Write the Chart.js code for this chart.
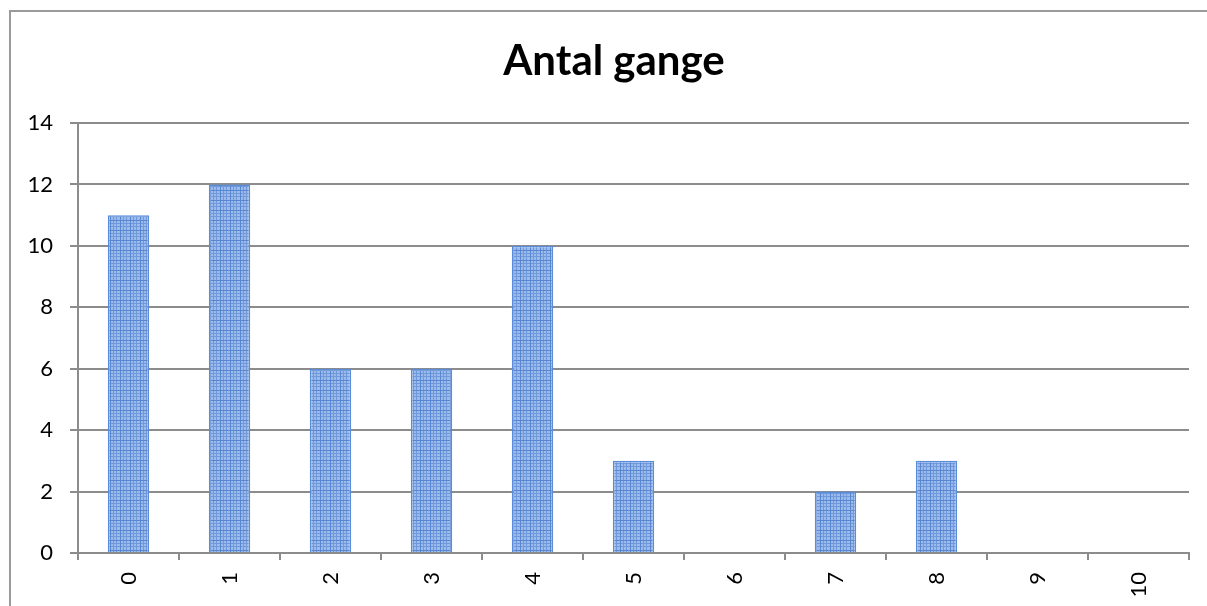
<!DOCTYPE html>
<html>
<head>
<meta charset="utf-8">
<script src="https://cdn.jsdelivr.net/npm/chart.js@4/dist/chart.umd.min.js"></script>
<style>
  html, body { margin: 0; padding: 0; background: #fff; overflow: hidden; }
  #frame {
    position: absolute; left: 9px; top: 10px; width: 1400px; height: 800px;
    border-left: 2px solid #9a9a9a; border-top: 2px solid #9a9a9a;
  }
  #wrap { position: absolute; left: 0; top: 0; width: 1207px; height: 606px; }
</style>
</head>
<body>
<div id="frame"></div>
<div id="wrap"><canvas id="chart"></canvas></div>
<script>
/* --- DATA --- */
const CATEGORIES = ['0', '1', '2', '3', '4', '5', '6', '7', '8', '9', '10'];
const COUNTS = [11, 12, 6, 6, 10, 3, 0, 2, 3, 0, 0];
const Y_MAX = 14;
const Y_STEP = 2;
const TITLE = 'Antal gange';

const GRID = '#8c8c8c';
const FONT = "Lato, 'Open Sans', sans-serif";

// small grid texture like the office "small grid" fill
function makePattern() {
  const c = document.createElement('canvas');
  c.width = 10; c.height = 10;
  const g = c.getContext('2d');
  g.fillStyle = '#9dbbea';
  g.fillRect(0, 0, 10, 10);
  g.fillStyle = '#7099db';
  [0, 3, 6].forEach(p => {
    g.fillRect(p, 0, 1, 10);
    g.fillRect(0, p, 10, 1);
  });
  g.fillStyle = '#5787d3';
  g.fillRect(0, 0, 1, 10);
  g.fillRect(0, 0, 10, 1);
  return g.createPattern(c, 'repeat');
}

// title drawn a bit left of the plot centre, like the original
const titlePlugin = {
  id: 'sheetTitle',
  afterDraw(chart) {
    const ctx = chart.ctx;
    ctx.save();
    ctx.font = `bold 42px ${FONT}`;
    ctx.fillStyle = '#000';
    ctx.textAlign = 'center';
    ctx.textBaseline = 'alphabetic';
    ctx.fillText(TITLE, 614, 75);
    ctx.restore();
  }
};

Chart.defaults.font.family = FONT;
Chart.defaults.color = '#000';

new Chart(document.getElementById('chart'), {
  type: 'bar',
  data: {
    labels: CATEGORIES,
    datasets: [{
      label: TITLE,
      data: COUNTS,
      backgroundColor: makePattern(),
      borderColor: '#5a8cd7',
      borderWidth: 1.5,
      categoryPercentage: 1,
      barPercentage: 0.41
    }]
  },
  options: {
    responsive: true,
    maintainAspectRatio: false,
    animation: false,
    layout: { padding: { left: 20, right: 18, top: 123, bottom: 0 } },
    plugins: {
      legend: { display: false },
      tooltip: { enabled: false },
      title: { display: false }
    },
    scales: {
      x: {
        offset: true,
        grid: { offset: true, drawOnChartArea: false, drawTicks: true, tickLength: 7, color: GRID, lineWidth: 2 },
        border: { display: true, color: GRID, width: 2 },
        ticks: { minRotation: 90, maxRotation: 90, autoSkip: false, padding: 12, font: { size: 22 } },
        afterFit: s => { s.height = 53; }
      },
      y: {
        min: 0,
        max: Y_MAX,
        grid: { color: GRID, lineWidth: 2, tickLength: 8 },
        border: { display: true, color: GRID, width: 2 },
        ticks: { stepSize: Y_STEP, padding: 17, font: { size: 22 } },
        afterFit: s => { s.width = 58; }
      }
    }
  },
  plugins: [titlePlugin]
});
</script>
</body>
</html>
